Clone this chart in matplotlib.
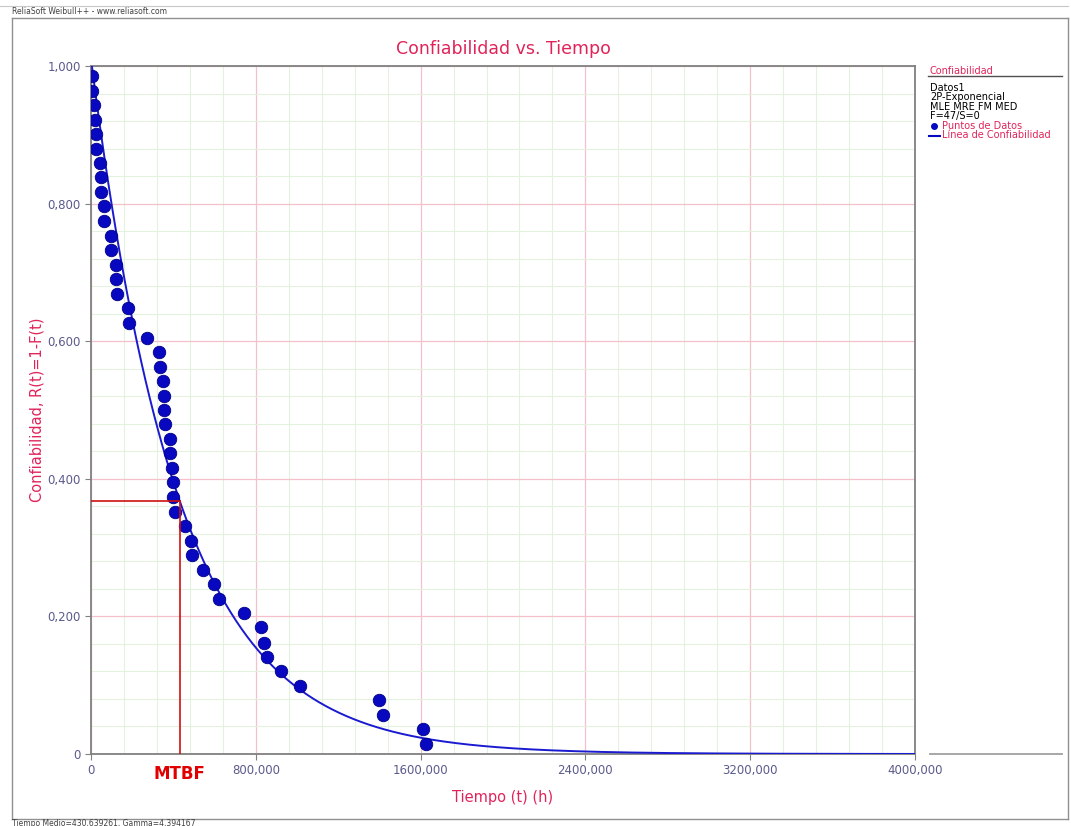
import numpy as np
import matplotlib
matplotlib.use("Agg")
import matplotlib.pyplot as plt
from matplotlib.lines import Line2D
from matplotlib.ticker import MultipleLocator

matplotlib.rcParams.update({
    "font.family": "DejaVu Sans",
    "font.size": 9,
})

# ---- data ----
t_fail = [4900, 4900, 14600, 19500, 24300, 24300, 43800, 48700, 48700, 63300,
          63300, 97300, 97300, 121700, 121700, 126500, 180000, 185000, 272500, 331000,
          335800, 350400, 355200, 355200, 360100, 384400, 384400, 394200, 399000, 399000,
          408800, 457400, 486600, 491500, 545000, 598500, 622900, 744500, 827300, 841900,
          856500, 924600, 1012200, 1396600, 1416000, 1610700, 1625300]
r_points = [0.985, 0.964, 0.943, 0.922, 0.901, 0.880, 0.859, 0.838, 0.817, 0.796,
            0.774, 0.753, 0.732, 0.711, 0.690, 0.669, 0.648, 0.627, 0.605, 0.584,
            0.563, 0.542, 0.521, 0.500, 0.479, 0.458, 0.437, 0.416, 0.395, 0.374,
            0.352, 0.331, 0.310, 0.289, 0.268, 0.247, 0.226, 0.205, 0.184, 0.162,
            0.141, 0.120, 0.099, 0.078, 0.057, 0.036, 0.015]

mean_time = 430639.261   # Tiempo Medio (MTBF)
gamma = 4394.167         # 2P-exponential location

x_ticks = [0, 800000, 1600000, 2400000, 3200000, 4000000]
x_ticklabels = ["0", "800,000", "1600,000", "2400,000", "3200,000", "4000,000"]
y_ticks = [0, 0.2, 0.4, 0.6, 0.8, 1.0]
y_ticklabels = ["0", "0,200", "0,400", "0,600", "0,800", "1,000"]

legend_lines = ["Datos1", "2P-Exponencial", "MLE MRE FM MED", "F=47/S=0"]

PINK = "#E0245A"
BLUE = "#0808C0"
TICK_COL = "#5A5A8C"
W, H = 1071, 826


def fx(px):
    return px / W


def fy(py):
    return 1 - py / H


fig = plt.figure(figsize=(W / 100, H / 100), dpi=100)
ax = fig.add_axes([fx(91), fy(754), fx(915) - fx(91), fy(66) - fy(754)])

# grid
ax.xaxis.set_minor_locator(MultipleLocator(160000))
ax.yaxis.set_minor_locator(MultipleLocator(0.04))
ax.grid(which="minor", color="#E2F2DC", linewidth=0.8)
ax.grid(which="major", color="#F4C0CC", linewidth=0.9)
ax.set_axisbelow(True)

# reliability line
eta = mean_time - gamma
t = np.linspace(gamma, 4000000, 600)
ax.plot(t, np.exp(-(t - gamma) / eta), color="#1A1AD0", linewidth=1.4, zorder=3)

# data points
ax.plot(t_fail, r_points, "o", color=BLUE, markersize=9,
        markeredgecolor="#000088", markeredgewidth=0.6, zorder=4)

# MTBF marker lines
r_mtbf = np.exp(-(mean_time - gamma) / eta)
ax.plot([0, mean_time], [r_mtbf, r_mtbf], color="#D01010", linewidth=1.2, zorder=5)
ax.plot([mean_time, mean_time], [0, r_mtbf], color="#D01010", linewidth=1.2, zorder=5)
ax.text(mean_time, -0.016, "MTBF", color="#E00000", fontsize=12, fontweight="bold",
        ha="center", va="top")

ax.set_xlim(0, 4000000)
ax.set_ylim(0, 1.0)
ax.set_xticks(x_ticks)
ax.set_xticklabels(x_ticklabels)
ax.set_yticks(y_ticks)
ax.set_yticklabels(y_ticklabels)
ax.tick_params(which="major", colors="#808080", labelcolor=TICK_COL, length=4,
               labelsize=8.5)
ax.tick_params(which="minor", length=0)
for s in ax.spines.values():
    s.set_color("#808080")
    s.set_linewidth(1.3)

ax.set_title("Confiabilidad vs. Tiempo", color=PINK, fontsize=12.5, pad=9)
ax.set_xlabel("Tiempo (t) (h)", color=PINK, fontsize=10.5, labelpad=9)
ax.set_ylabel("Confiabilidad, R(t)=1-F(t)", color=PINK, fontsize=10.5, labelpad=2)

# ---- legend panel on the right ----
fig.text(fx(930), fy(71), "Confiabilidad", color=PINK, fontsize=7, va="center")
fig.add_artist(Line2D([fx(928), fx(1062)], [fy(76), fy(76)], color="#505050", linewidth=1))
for i, s in enumerate(legend_lines):
    fig.text(fx(930), fy(88 + i * 9.5), s, color="black", fontsize=7, va="center")
fig.add_artist(Line2D([fx(934)], [fy(126)], marker="o", color=BLUE, markersize=4))
fig.text(fx(942), fy(126), "Puntos de Datos", color=PINK, fontsize=7, va="center")
fig.add_artist(Line2D([fx(929), fx(940)], [fy(135.5), fy(135.5)], color=BLUE, linewidth=1.5))
fig.text(fx(942), fy(135.5), "Línea de Confiabilidad", color=PINK, fontsize=7, va="center")
fig.add_artist(Line2D([fx(930), fx(1062)], [fy(754), fy(754)], color="#A0A0A0", linewidth=1.3))

# ---- outer frame, header and footer ----
fig.add_artist(Line2D([fx(0), fx(1068)], [fy(6), fy(6)], color="#C8C8C8", linewidth=0.8))
fig.add_artist(Line2D([fx(12), fx(1068)], [fy(18), fy(18)], color="#909090", linewidth=1))
fig.add_artist(Line2D([fx(12), fx(1068)], [fy(819), fy(819)], color="#909090", linewidth=1))
fig.add_artist(Line2D([fx(12), fx(12)], [fy(18), fy(819)], color="#909090", linewidth=1))
fig.add_artist(Line2D([fx(1068), fx(1068)], [fy(18), fy(819)], color="#909090", linewidth=1))
fig.text(fx(12), fy(12), "ReliaSoft Weibull++ - www.reliasoft.com", fontsize=5.5,
         color="#404040", va="center")
fig.text(fx(12), fy(823), "Tiempo Medio=430,639261, Gamma=4,394167", fontsize=5.5,
         color="#404040", va="center")

fig.savefig("out.png", dpi=100)
